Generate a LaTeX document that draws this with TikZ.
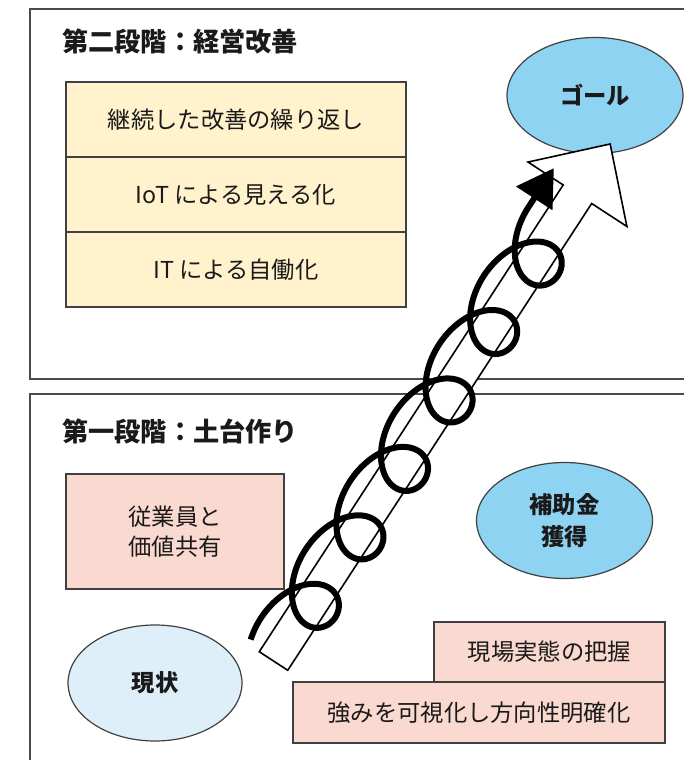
\documentclass[tikz,border=0pt]{standalone}
\usepackage{fontspec}
\setmainfont{Noto Sans CJK JP}
\usetikzlibrary{shapes.geometric,arrows.meta}
\definecolor{paleyellow}{HTML}{FFF2CC}
\definecolor{palepink}{HTML}{FADAD0}
\definecolor{paleblue}{HTML}{DEEFFA}
\definecolor{skyblue}{HTML}{8FD3F3}
\definecolor{edgegray}{HTML}{404040}
\definecolor{framegray}{HTML}{4A4A4A}
\definecolor{txt}{HTML}{1A1A1A}
\tikzset{
  frame/.style={draw=framegray, line width=1.3pt},
  cell/.style={draw=edgegray, line width=1.2pt, fill=paleyellow, minimum width=340pt, minimum height=75pt, inner sep=0pt, text=txt, font=\fontsize{23.3}{28}\selectfont},
  pinkbox/.style={draw=edgegray, line width=1.2pt, fill=palepink, inner sep=0pt, text=txt, align=center, font=\fontsize{23.3}{30}\selectfont},
  oval/.style={ellipse, draw=edgegray, line width=1.2pt, minimum width=176pt, minimum height=116pt, inner sep=0pt, text=txt, align=center, font=\bfseries\fontsize{23.3}{32}\selectfont},
  stagetitle/.style={anchor=west, inner sep=0pt, text=txt, font=\bfseries\fontsize{26.2}{30}\selectfont},
  bigarrow/.style={draw=black, line width=1.6pt, fill=white, line join=miter},
  coil/.style={draw=black, line width=6pt, -{Triangle[length=36pt,width=42pt]}}
}
\begin{document}
\begin{tikzpicture}[x=1pt,y=-1pt]
\useasboundingbox (0,0) rectangle (684,760);
\clip (0,0) rectangle (684,760);
\fill[white] (0,0) rectangle (684,760);
% frames
\draw[frame] (30,9) rectangle (700,379);
\draw[frame] (30,394) rectangle (700,780);
\node[stagetitle] (t2) at (62,41) {第二段階：経営改善};
\node[stagetitle] (t1) at (62,431) {第一段階：土台作り};
% stage 2 table
\node[cell] (r1) at (236,119.5) {継続した改善の繰り返し};
\node[cell] (r2) at (236,194.5) {IoT による見える化};
\node[cell] (r3) at (236,269.5) {IT による自働化};
% goal
\node[oval, fill=skyblue] (goal) at (595,95.5) {ゴール};
% stage 1
\node[pinkbox, minimum width=218pt, minimum height=115pt] (share) at (175,531.5) {従業員と\\価値共有};
\node[oval, fill=skyblue] (subsidy) at (564.5,520.5) {補助金\\獲得};
\node[oval, fill=paleblue, minimum width=174pt] (now) at (155,683) {現状};
\node[pinkbox, minimum width=231pt, minimum height=60pt] (grasp) at (549.5,652) {現場実態の把握};
\node[pinkbox, minimum width=372pt, minimum height=61pt] (visual) at (479,712.5) {強みを可視化し方向性明確化};
% big arrow and coil
\begin{scope}[shift={(273.5,661)}, rotate=56.93, x=1pt, y=1pt]
  \coordinate (abase) at (0,0);
  \coordinate (atip) at (617,0);
  \draw[bigarrow] (0,17) -- (557,17) -- (557,59) -- (atip) -- (557,-59) -- (557,-17) -- (0,-17) -- cycle;
  \coordinate (coilend) at (566,34);
  \draw[coil] plot[domain=-3.6:34.5575, samples=500, smooth] ({70+13*\x-40*sin(\x r)},{3-31*cos(\x r)}) -- (coilend);
\end{scope}
\end{tikzpicture}
\end{document}
